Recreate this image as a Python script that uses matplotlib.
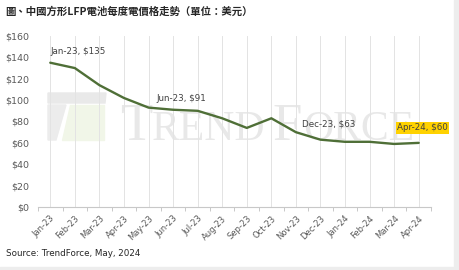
import numpy as np
import matplotlib.pyplot as plt
from matplotlib.patches import Polygon, Rectangle

plt.rcParams['font.family'] = ['Noto Sans CJK TC', 'DejaVu Sans']

months = ["Jan-23", "Feb-23", "Mar-23", "Apr-23", "May-23", "Jun-23", "Jul-23", "Aug-23",
          "Sep-23", "Oct-23", "Nov-23", "Dec-23", "Jan-24", "Feb-24", "Mar-24", "Apr-24"]
price = [135, 130, 114, 102, 93, 91, 90, 83, 74, 83, 70, 63, 61, 61, 59, 60]
yticks = [0, 20, 40, 60, 80, 100, 120, 140, 160]

# which points get a label, and pixel offset of the label centre
labels = {0: (28, 11), 5: (8, 11), 11: (8, 16), 15: (4, 15)}

fig = plt.figure(figsize=(4.6, 2.7), dpi=100)
W, H = 460, 270

def fx(px):
    return px / W

def fy(py):
    return 1 - py / H

ax = fig.add_axes([fx(38), fy(207), fx(431) - fx(38), fy(36) - fy(207)])
ax.set_zorder(2)
ax.patch.set_alpha(0)

# faint TrendForce watermark
tr = fig.transFigure
fig.patches.append(Polygon([(fx(48), fy(93)), (fx(106), fy(93)), (fx(105), fy(103)), (fx(48), fy(103))],
                           closed=True, transform=tr, color="#e9e9e9", zorder=0))
fig.patches.append(Polygon([(fx(48), fy(105)), (fx(66), fy(105)), (fx(56), fy(140)), (fx(48), fy(140))],
                           closed=True, transform=tr, color="#ececec", zorder=0))
fig.patches.append(Polygon([(fx(70), fy(105)), (fx(104), fy(105)), (fx(104), fy(140)), (fx(62), fy(140))],
                           closed=True, transform=tr, color="#f1f6e8", zorder=0))
wm = dict(family="Liberation Serif", color="#e8e8e8", zorder=0, va="baseline")
fig.text(fx(120), fy(140), "T", fontsize=38, **wm)
fig.text(fx(152), fy(140), "REND", fontsize=30, **wm)
fig.text(fx(272), fy(140), "F", fontsize=38, **wm)
fig.text(fx(303), fy(140), "ORCE", fontsize=30, **wm)

x = np.arange(len(months))
ax.plot(x, price, color="#4f6f37", lw=1.7, zorder=3, solid_capstyle="round")

for i, (dx, dy) in labels.items():
    txt = f"{months[i]}, ${price[i]}"
    kw = {}
    if i == len(months) - 1:
        kw["bbox"] = dict(boxstyle="square,pad=0.15", fc="#ffd200", ec="none")
    ax.annotate(txt, (x[i], price[i]), xytext=(dx, dy), textcoords="offset pixels",
                ha="center", va="center", fontsize=6.3, color="#404040", family="DejaVu Sans", **kw)

ax.set_xlim(-0.5, len(months) - 0.5)
ax.set_ylim(0, 160)
ax.set_yticks(yticks)
ax.set_yticklabels([f"${v}" for v in yticks], fontsize=6.8, color="#595959", family="DejaVu Sans")
ax.set_xticks(x)
ax.set_xticklabels(months, rotation=45, ha="right", rotation_mode="anchor", fontsize=6,
                   color="#595959", family="DejaVu Sans")
ax.set_xticks(np.arange(len(months) + 1) - 0.5, minor=True)
ax.tick_params(axis="x", which="major", length=0, pad=5)
ax.tick_params(axis="x", which="minor", length=3, color="#bfbfbf")
ax.tick_params(axis="y", length=0, pad=6)
ax.grid(axis="x", which="major", color="#e3e3e3", lw=0.7)
for s in ["top", "right", "left"]:
    ax.spines[s].set_visible(False)
ax.spines["bottom"].set_color("#c8c8c8")
ax.spines["bottom"].set_linewidth(0.8)

fig.text(fx(5), fy(12), "圖、中國方形LFP電池每度電價格走勢（單位：美元）", fontsize=7.5,
         weight="bold", color="#262626", va="center")
fig.text(fx(6), fy(253), "Source: TrendForce, May, 2024", fontsize=6.3, color="#262626",
         va="center", family="DejaVu Sans")

fig.patches.append(Rectangle((fx(454), 0), 1 - fx(454), 1, transform=tr, color="#ededed", zorder=0))
fig.patches.append(Rectangle((0, 0), 1, fy(267), transform=tr, color="#ededed", zorder=0))

fig.savefig("out.png", dpi=100)
